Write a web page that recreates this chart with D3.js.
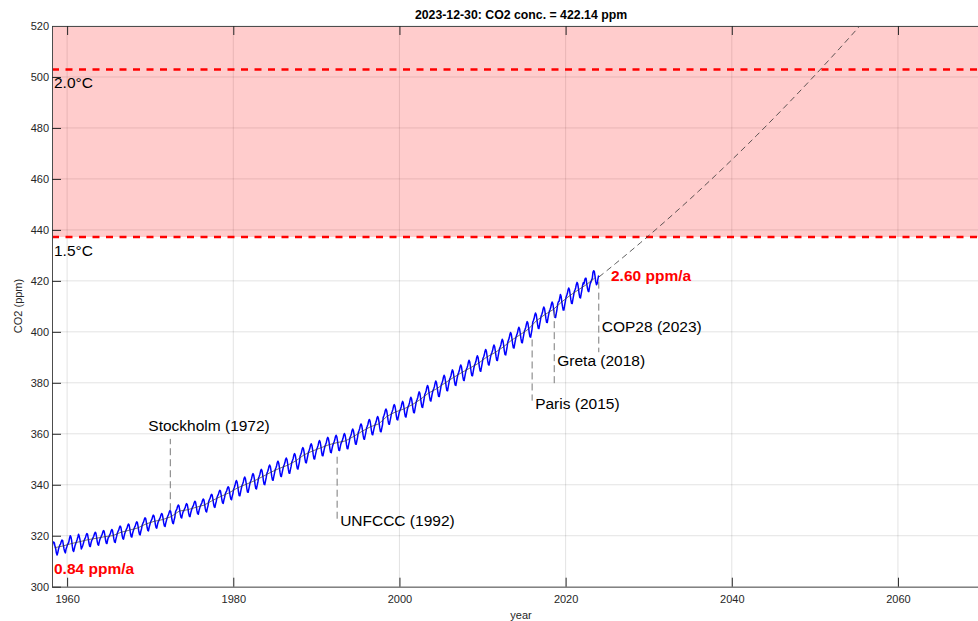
<!DOCTYPE html>
<html>
<head>
<meta charset="utf-8">
<script src="https://cdn.jsdelivr.net/npm/d3@7"></script>
<style>
  html, body { margin: 0; padding: 0; background: #fff; }
  svg { display: block; }
</style>
</head>
<body>
<svg id="chart" width="978" height="621"></svg>
<script>
// ---------------- DATA ----------------
const titleDate = "2023-12-30";
const latestValue = 422.14;
const latestDate = 2023.99;

// Monthly CO2 (ppm), starting March 1958
const firstYear = 1958, firstMonth = 3;
const monthlyCO2 = [
  315.70, 317.45, 317.51, 317.24, 315.86, 314.93, 313.20, 312.43, 313.33, 314.67,
  315.62, 316.38, 316.71, 317.72, 318.29, 318.15, 316.54, 314.80, 313.84, 313.26, 314.80, 315.58,
  316.43, 316.97, 317.58, 319.02, 320.03, 319.59, 318.18, 315.91, 314.16, 313.83, 315.00, 316.19,
  316.93, 317.70, 318.54, 319.48, 320.58, 319.77, 318.57, 316.79, 314.80, 315.38, 316.10, 317.01,
  318.05, 318.75, 319.25, 320.25, 320.85, 320.55, 319.05, 317.15, 315.95, 315.75, 317.15, 318.15,
  318.59, 319.29, 319.79, 320.79, 321.39, 321.09, 319.59, 317.69, 316.49, 316.29, 317.69, 318.69,
  319.22, 319.92, 320.42, 321.42, 322.02, 321.72, 320.22, 318.32, 317.12, 316.92, 318.32, 319.32,
  319.64, 320.34, 320.84, 321.84, 322.44, 322.14, 320.64, 318.74, 317.54, 317.34, 318.74, 319.74,
  320.97, 321.67, 322.17, 323.17, 323.77, 323.47, 321.97, 320.07, 318.87, 318.67, 320.07, 321.07,
  321.78, 322.48, 322.98, 323.98, 324.58, 324.28, 322.78, 320.88, 319.68, 319.48, 320.88, 321.88,
  322.65, 323.35, 323.85, 324.85, 325.45, 325.15, 323.65, 321.75, 320.55, 320.35, 321.75, 322.75,
  324.22, 324.92, 325.42, 326.42, 327.02, 326.72, 325.22, 323.32, 322.12, 321.92, 323.32, 324.32,
  325.28, 325.98, 326.48, 327.48, 328.08, 327.78, 326.28, 324.38, 323.18, 322.98, 324.38, 325.38,
  325.92, 326.62, 327.12, 328.12, 328.72, 328.42, 326.92, 325.02, 323.82, 323.62, 325.02, 326.02,
  327.06, 327.76, 328.26, 329.26, 329.86, 329.56, 328.06, 326.16, 324.96, 324.76, 326.16, 327.16,
  329.28, 329.98, 330.48, 331.48, 332.08, 331.78, 330.28, 328.38, 327.18, 326.98, 328.38, 329.38,
  329.79, 330.49, 330.99, 331.99, 332.59, 332.29, 330.79, 328.89, 327.69, 327.49, 328.89, 329.89,
  330.73, 331.43, 331.93, 332.93, 333.53, 333.23, 331.73, 329.83, 328.63, 328.43, 329.83, 330.83,
  331.63, 332.33, 332.83, 333.83, 334.43, 334.13, 332.63, 330.73, 329.53, 329.33, 330.73, 331.73,
  333.44, 334.14, 334.64, 335.64, 336.24, 335.94, 334.44, 332.54, 331.34, 331.14, 332.54, 333.54,
  335.01, 335.71, 336.21, 337.21, 337.81, 337.51, 336.01, 334.11, 332.91, 332.71, 334.11, 335.11,
  336.44, 337.14, 337.64, 338.64, 339.24, 338.94, 337.44, 335.54, 334.34, 334.14, 335.54, 336.54,
  338.26, 338.96, 339.76, 341.06, 341.66, 341.06, 339.46, 337.26, 335.76, 335.66, 337.06, 338.36,
  339.62, 340.32, 341.12, 342.42, 343.02, 342.42, 340.82, 338.62, 337.12, 337.02, 338.42, 339.72,
  340.98, 341.68, 342.48, 343.78, 344.38, 343.78, 342.18, 339.98, 338.48, 338.38, 339.78, 341.08,
  342.65, 343.35, 344.15, 345.45, 346.05, 345.45, 343.85, 341.65, 340.15, 340.05, 341.45, 342.75,
  344.37, 345.07, 345.87, 347.17, 347.77, 347.17, 345.57, 343.37, 341.87, 341.77, 343.17, 344.47,
  345.85, 346.55, 347.35, 348.65, 349.25, 348.65, 347.05, 344.85, 343.35, 343.25, 344.65, 345.95,
  347.11, 347.81, 348.61, 349.91, 350.51, 349.91, 348.31, 346.11, 344.61, 344.51, 345.91, 347.21,
  348.81, 349.51, 350.31, 351.61, 352.21, 351.61, 350.01, 347.81, 346.31, 346.21, 347.61, 348.91,
  351.19, 351.89, 352.69, 353.99, 354.59, 353.99, 352.39, 350.19, 348.69, 348.59, 349.99, 351.29,
  352.70, 353.40, 354.20, 355.50, 356.10, 355.50, 353.90, 351.70, 350.20, 350.10, 351.50, 352.80,
  353.95, 354.65, 355.45, 356.75, 357.35, 356.75, 355.15, 352.95, 351.45, 351.35, 352.75, 354.05,
  355.20, 355.90, 356.70, 358.00, 358.60, 358.00, 356.40, 354.20, 352.70, 352.60, 354.00, 355.30,
  356.04, 356.74, 357.54, 358.84, 359.44, 358.84, 357.24, 355.04, 353.54, 353.44, 354.84, 356.14,
  356.71, 357.41, 358.21, 359.51, 360.11, 359.51, 357.91, 355.71, 354.21, 354.11, 355.51, 356.81,
  358.46, 359.16, 359.96, 361.26, 361.86, 361.26, 359.66, 357.46, 355.96, 355.86, 357.26, 358.56,
  360.47, 361.17, 361.97, 363.27, 363.87, 363.27, 361.67, 359.47, 357.97, 357.87, 359.27, 360.57,
  362.24, 362.94, 363.74, 365.04, 365.64, 365.04, 363.44, 361.24, 359.74, 359.64, 361.04, 362.34,
  363.38, 364.08, 364.88, 366.18, 366.78, 366.18, 364.58, 362.38, 360.88, 360.78, 362.18, 363.48,
  366.34, 367.04, 367.84, 369.14, 369.74, 369.14, 367.54, 365.34, 363.84, 363.74, 365.14, 366.44,
  368.04, 368.74, 369.54, 370.84, 371.44, 370.84, 369.24, 367.04, 365.54, 365.44, 366.84, 368.14,
  369.01, 369.71, 370.51, 371.91, 372.71, 372.11, 370.31, 368.21, 366.71, 366.61, 368.21, 369.71,
  370.62, 371.32, 372.12, 373.52, 374.32, 373.72, 371.92, 369.82, 368.32, 368.22, 369.82, 371.32,
  372.75, 373.45, 374.25, 375.65, 376.45, 375.85, 374.05, 371.95, 370.45, 370.35, 371.95, 373.45,
  375.28, 375.98, 376.78, 378.18, 378.98, 378.38, 376.58, 374.48, 372.98, 372.88, 374.48, 375.98,
  377.00, 377.70, 378.50, 379.90, 380.70, 380.10, 378.30, 376.20, 374.70, 374.60, 376.20, 377.70,
  379.28, 379.98, 380.78, 382.18, 382.98, 382.38, 380.58, 378.48, 376.98, 376.88, 378.48, 379.98,
  381.39, 382.09, 382.89, 384.29, 385.09, 384.49, 382.69, 380.59, 379.09, 378.99, 380.59, 382.09,
  383.32, 384.02, 384.82, 386.22, 387.02, 386.42, 384.62, 382.52, 381.02, 380.92, 382.52, 384.02,
  385.13, 385.83, 386.63, 388.03, 388.83, 388.23, 386.43, 384.33, 382.83, 382.73, 384.33, 385.83,
  386.94, 387.64, 388.44, 389.84, 390.64, 390.04, 388.24, 386.14, 384.64, 384.54, 386.14, 387.64,
  389.40, 390.10, 390.90, 392.30, 393.10, 392.50, 390.70, 388.60, 387.10, 387.00, 388.60, 390.10,
  391.15, 391.85, 392.65, 394.05, 394.85, 394.25, 392.45, 390.35, 388.85, 388.75, 390.35, 391.85,
  393.36, 394.06, 394.86, 396.26, 397.06, 396.46, 394.66, 392.56, 391.06, 390.96, 392.56, 394.06,
  396.04, 396.74, 397.54, 398.94, 399.74, 399.14, 397.34, 395.24, 393.74, 393.64, 395.24, 396.74,
  398.11, 398.81, 399.61, 401.01, 401.81, 401.21, 399.41, 397.31, 395.81, 395.71, 397.31, 398.81,
  400.31, 401.01, 401.81, 403.21, 404.01, 403.41, 401.61, 399.51, 398.01, 397.91, 399.51, 401.01,
  403.71, 404.41, 405.21, 406.61, 407.41, 406.81, 405.01, 402.91, 401.41, 401.31, 402.91, 404.41,
  406.06, 406.76, 407.56, 408.96, 409.76, 409.16, 407.36, 405.26, 403.76, 403.66, 405.26, 406.76,
  408.02, 408.72, 409.52, 410.92, 411.72, 411.12, 409.32, 407.22, 405.72, 405.62, 407.22, 408.72,
  410.83, 411.75, 411.97, 413.33, 414.66, 413.92, 411.77, 409.95, 408.54, 408.53, 410.27, 411.76,
  413.51, 414.21, 415.01, 416.41, 417.21, 416.61, 414.81, 412.71, 411.21, 411.11, 412.71, 414.21,
  415.71, 416.41, 417.21, 418.61, 419.41, 418.81, 417.01, 414.91, 413.41, 413.31, 414.91, 416.41,
  418.19, 419.28, 418.81, 420.23, 420.99, 420.99, 418.90, 417.19, 415.95, 415.78, 417.51, 418.95,
  419.47, 420.31, 420.99, 423.36, 424.00, 423.68, 421.83, 419.68, 418.51, 418.82, 420.46, 421.86
];

// Annual mean (smoothed trend), 1958 .. 2023
const trendFirstYear = 1958;
const trendCO2 = [
  315.30, 315.98, 316.91, 317.64, 318.45, 318.99, 319.62, 320.04, 321.37, 322.18,
  323.05, 324.62, 325.68, 326.32, 327.46, 329.68, 330.19, 331.13, 332.03, 333.84,
  335.41, 336.84, 338.76, 340.12, 341.48, 343.15, 344.87, 346.35, 347.61, 349.31,
  351.69, 353.20, 354.45, 355.70, 356.54, 357.21, 358.96, 360.97, 362.74, 363.88,
  366.84, 368.54, 369.71, 371.32, 373.45, 375.98, 377.70, 379.98, 382.09, 384.02,
  385.83, 387.64, 390.10, 391.85, 394.06, 396.74, 398.81, 401.01, 404.41, 406.76,
  408.72, 411.65, 414.21, 416.41, 418.53, 421.08
];

// Projection (extrapolated fit), yearly from 2024
const projFirstYear = 2024;
const projCO2 = [
  421.50, 424.12, 426.77, 429.45, 432.17, 434.93, 437.72, 440.54, 443.39, 446.29,
  449.21, 452.17, 455.16, 458.19, 461.25, 464.35, 467.48, 470.64, 473.84, 477.07,
  480.34, 483.64, 486.98, 490.35, 493.75, 497.19, 500.66, 504.17, 507.71, 511.28,
  514.89, 518.53, 522.21
];

// Temperature thresholds (ppm)
const thresholdLabels = ["2.0°C", "1.5°C"];
const thresholdPPM = [502.9, 437.2];

// Growth rates
const rateLabels = ["0.84 ppm/a", "2.60 ppm/a"];

// Events
const eventLabels = ["Stockholm (1972)", "UNFCCC (1992)", "Paris (2015)", "Greta (2018)", "COP28 (2023)"];
const eventDates  = [1972.42, 1992.50, 2015.97, 2018.63, 2023.99];
const eventFromPPM = [330.0, 351.0, 397.0, 408.5, 419.7];
const eventToPPM   = [358.0, 326.0, 373.0, 378.5, 392.0];

// Axis ticks
const xTickValues = [1960, 1980, 2000, 2020, 2040, 2060];
const yTickValues = [300, 320, 340, 360, 380, 400, 420, 440, 460, 480, 500, 520];

// ---------------- CHART ----------------
const FONT = "'Liberation Sans', Arial, Helvetica, sans-serif";
const svg = d3.select("#chart");
const P = { l: 52, t: 26, r: 991, b: 586.7 };

const x = d3.scaleLinear().domain([1958.18, 2071.2]).range([P.l, P.r]);
const y = d3.scaleLinear().domain([300, 520]).range([P.b, P.t]);

svg.append("defs").append("clipPath").attr("id", "clip")
  .append("rect").attr("x", P.l).attr("y", P.t).attr("width", P.r - P.l).attr("height", P.b - P.t);

// grid
const grid = svg.append("g");
grid.selectAll("line.gx").data(xTickValues).join("line")
  .attr("x1", d => x(d)).attr("x2", d => x(d)).attr("y1", P.t).attr("y2", P.b)
  .attr("stroke", "#262626").attr("stroke-opacity", 0.13).attr("stroke-width", 1);
grid.selectAll("line.gy").data(yTickValues).join("line")
  .attr("x1", P.l).attr("x2", P.r).attr("y1", d => y(d)).attr("y2", d => y(d))
  .attr("stroke", "#262626").attr("stroke-opacity", 0.13).attr("stroke-width", 1);

const plotG = svg.append("g").attr("clip-path", "url(#clip)");

// red zone
plotG.append("rect")
  .attr("x", P.l).attr("width", P.r - P.l)
  .attr("y", y(520)).attr("height", y(thresholdPPM[1]) - y(520))
  .attr("fill", "#ff0000").attr("fill-opacity", 0.2);

// threshold lines
plotG.selectAll("line.th").data(thresholdPPM).join("line")
  .attr("x1", P.l).attr("x2", P.r).attr("y1", d => y(d)).attr("y2", d => y(d))
  .attr("stroke", "#ff0000").attr("stroke-width", 2.5).attr("stroke-dasharray", "7,6.5");

// measurement curve
const monthly = monthlyCO2.map((v, i) => ({
  t: firstYear + (firstMonth - 1 + i + 0.5) / 12, v
}));
monthly.push({ t: latestDate, v: latestValue });
const line = d3.line().x(d => x(d.t)).y(d => y(d.v));
plotG.append("path").datum(monthly).attr("d", line)
  .attr("fill", "none").attr("stroke", "#0000ff").attr("stroke-width", 1.5)
  .attr("stroke-linejoin", "round");

// trend line
const trend = trendCO2.map((v, i) => ({ t: trendFirstYear + i + 0.5, v }));
plotG.append("path").datum(trend).attr("d", line)
  .attr("fill", "none").attr("stroke", "#333").attr("stroke-width", 0.7);

// projection
const proj = projCO2.map((v, i) => ({ t: projFirstYear + i, v }));
plotG.append("path").datum(proj).attr("d", line)
  .attr("fill", "none").attr("stroke", "#333").attr("stroke-width", 0.8)
  .attr("stroke-dasharray", "6,4");

// event lines + labels
const evPos = [
  { dx: -22, y: 431 }, { dx: 3, y: 526 }, { dx: 3, y: 408.5 }, { dx: 3, y: 365.7 }, { dx: 3, y: 332.3 }
];
eventLabels.forEach((lab, i) => {
  svg.append("line")
    .attr("x1", x(eventDates[i])).attr("x2", x(eventDates[i]))
    .attr("y1", y(eventFromPPM[i])).attr("y2", y(eventToPPM[i]))
    .attr("stroke", "#7a7a7a").attr("stroke-width", 1).attr("stroke-dasharray", "7,4");
  svg.append("text")
    .attr("x", x(eventDates[i]) + evPos[i].dx).attr("y", evPos[i].y)
    .attr("font-family", FONT).attr("font-size", 15.5).attr("fill", "#000")
    .text(lab);
});

// threshold labels
thresholdLabels.forEach((lab, i) => {
  svg.append("text").attr("x", 54).attr("y", y(thresholdPPM[i]) + 18.5)
    .attr("font-family", FONT).attr("font-size", 15.5).attr("fill", "#000").text(lab);
});

// rate labels
svg.append("text").attr("x", 54).attr("y", 574)
  .attr("font-family", FONT).attr("font-size", 15.5).attr("font-weight", "bold")
  .attr("fill", "#ff0000").text(rateLabels[0]);
svg.append("text").attr("x", 611).attr("y", 280.7)
  .attr("font-family", FONT).attr("font-size", 15.5).attr("font-weight", "bold")
  .attr("fill", "#ff0000").text(rateLabels[1]);

// axes
const axColor = "#4d4d4d";
const xAxis = svg.append("g").attr("transform", `translate(0,${P.b})`)
  .call(d3.axisBottom(x).tickValues(xTickValues).tickFormat(d3.format("d"))
    .tickSizeInner(-9).tickSizeOuter(0).tickPadding(8.5));
const yAxis = svg.append("g").attr("transform", `translate(${P.l},0)`)
  .call(d3.axisLeft(y).tickValues(yTickValues).tickFormat(d3.format("d"))
    .tickSizeInner(-9).tickSizeOuter(0).tickPadding(3));
const topAxis = svg.append("g").attr("transform", `translate(0,${P.t})`)
  .call(d3.axisTop(x).tickValues(xTickValues).tickFormat("")
    .tickSizeInner(-9).tickSizeOuter(0));
[xAxis, yAxis, topAxis].forEach(g => {
  g.attr("font-family", FONT).attr("font-size", 11);
  g.selectAll("path.domain").attr("stroke", axColor).attr("stroke-width", 1);
  g.selectAll(".tick line").attr("stroke", "#262626").attr("stroke-width", 1);
  g.selectAll(".tick text").attr("fill", "#262626");
});

// title and axis labels
svg.append("text").attr("x", 521).attr("y", 19.3).attr("text-anchor", "middle")
  .attr("font-family", FONT).attr("font-size", 12.3).attr("font-weight", "bold")
  .attr("fill", "#000")
  .text(`${titleDate}: CO2 conc. = ${latestValue.toFixed(2)} ppm`);
svg.append("text").attr("x", 521).attr("y", 619).attr("text-anchor", "middle")
  .attr("font-family", FONT).attr("font-size", 11).attr("fill", "#262626").text("year");
svg.append("text").attr("transform", "translate(22,306) rotate(-90)")
  .attr("text-anchor", "middle")
  .attr("font-family", FONT).attr("font-size", 11).attr("fill", "#262626").text("CO2 (ppm)");
</script>
</body>
</html>
